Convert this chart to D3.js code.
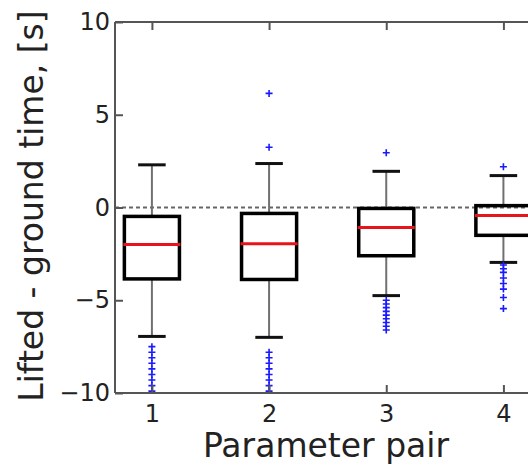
<!DOCTYPE html>
<html>
<head>
<meta charset="utf-8">
<script src="https://cdn.jsdelivr.net/npm/d3@7"></script>
<style>
  html, body { margin: 0; padding: 0; background: #fff; }
  svg { display: block; font-family: "DejaVu Sans", sans-serif; }
</style>
</head>
<body>
<svg id="chart" width="528" height="465"></svg>
<script>
// Parameter pairs along the x axis
const categories = [1, 2, 3, 4];

// Box statistics per parameter pair (seconds)
const q1 = [-3.85, -3.88, -2.6, -1.5];
const medians = [-2.0, -1.95, -1.08, -0.43];
const q3 = [-0.48, -0.32, -0.05, 0.1];
const whiskerLow = [-6.95, -7.0, -4.75, -2.96];
const whiskerHigh = [2.3, 2.37, 1.95, 1.72];

// Flier points per parameter pair
const outliers = [
  [-7.5, -7.8, -8.1, -8.4, -8.7, -9.0, -9.3, -9.6, -9.9],
  [6.15, 3.25, -7.8, -8.1, -8.4, -8.7, -9.0, -9.3, -9.6, -9.9],
  [2.95, -5.0, -5.2, -5.4, -5.6, -5.8, -6.0, -6.2, -6.4, -6.6],
  [2.2, -3.1, -3.3, -3.5, -3.8, -4.1, -4.4, -4.85, -5.45]
];

const yTicks = [-10, -5, 0, 5, 10];

const svg = d3.select("#chart");
const plotLeft = 115, plotRight = 562, plotTop = 22, plotBottom = 393;

const x = d3.scaleLinear().domain([0.685, 4.5]).range([plotLeft, plotRight]);
const y = d3.scaleLinear().domain([-10, 10]).range([plotBottom, plotTop]);
const boxW = x(1.47) - x(1);
const capW = boxW / 2;

svg.append("defs").append("clipPath").attr("id", "plotclip")
  .append("rect").attr("x", plotLeft).attr("y", plotTop)
  .attr("width", plotRight - plotLeft).attr("height", plotBottom - plotTop);

const plot = svg.append("g").attr("clip-path", "url(#plotclip)");

// zero reference line
plot.append("line")
  .attr("x1", plotLeft).attr("x2", plotRight)
  .attr("y1", y(0)).attr("y2", y(0))
  .attr("stroke", "#666").attr("stroke-width", 2)
  .attr("stroke-dasharray", "4,3");

const stats = categories.map((c, i) => ({
  c, q1: q1[i], med: medians[i], q3: q3[i],
  lo: whiskerLow[i], hi: whiskerHigh[i], fl: outliers[i]
}));

const g = plot.selectAll("g.box").data(stats).join("g").attr("class", "box");

// whiskers
g.append("line")
  .attr("x1", d => x(d.c)).attr("x2", d => x(d.c))
  .attr("y1", d => y(d.q3)).attr("y2", d => y(d.hi))
  .attr("stroke", "#707070").attr("stroke-width", 2);
g.append("line")
  .attr("x1", d => x(d.c)).attr("x2", d => x(d.c))
  .attr("y1", d => y(d.q1)).attr("y2", d => y(d.lo))
  .attr("stroke", "#707070").attr("stroke-width", 2);

// caps
g.append("line")
  .attr("x1", d => x(d.c) - capW / 2).attr("x2", d => x(d.c) + capW / 2)
  .attr("y1", d => y(d.hi)).attr("y2", d => y(d.hi))
  .attr("stroke", "#111").attr("stroke-width", 3);
g.append("line")
  .attr("x1", d => x(d.c) - capW / 2).attr("x2", d => x(d.c) + capW / 2)
  .attr("y1", d => y(d.lo)).attr("y2", d => y(d.lo))
  .attr("stroke", "#111").attr("stroke-width", 3);

// boxes
g.append("rect")
  .attr("x", d => x(d.c) - boxW / 2).attr("width", boxW)
  .attr("y", d => y(d.q3)).attr("height", d => y(d.q1) - y(d.q3))
  .attr("fill", "none").attr("stroke", "#000").attr("stroke-width", 3.5);

// medians
g.append("line")
  .attr("x1", d => x(d.c) - boxW / 2 - 1).attr("x2", d => x(d.c) + boxW / 2 + 1)
  .attr("y1", d => y(d.med)).attr("y2", d => y(d.med))
  .attr("stroke", "#e8141c").attr("stroke-width", 3);

// fliers as "+" markers
const plusPath = "M-3.5,0H3.5M0,-3.5V3.5";
g.each(function (d) {
  d3.select(this).selectAll("path.flier").data(d.fl).join("path")
    .attr("class", "flier")
    .attr("transform", v => `translate(${x(d.c)},${y(v)})`)
    .attr("d", plusPath)
    .attr("stroke", "#1a1aff").attr("stroke-width", 1.6).attr("fill", "none");
});

// frame
const frame = svg.append("g").attr("stroke", "#555").attr("stroke-width", 2);
frame.append("line").attr("x1", plotLeft).attr("x2", plotRight).attr("y1", plotTop).attr("y2", plotTop);
frame.append("line").attr("x1", plotLeft).attr("x2", plotRight).attr("y1", plotBottom).attr("y2", plotBottom);
frame.append("line").attr("x1", plotLeft).attr("x2", plotLeft).attr("y1", plotTop).attr("y2", plotBottom);
frame.append("line").attr("x1", plotRight).attr("x2", plotRight).attr("y1", plotTop).attr("y2", plotBottom);

// axes with inward ticks
const yAxis = svg.append("g").attr("transform", `translate(${plotLeft},0)`)
  .call(d3.axisLeft(y).tickValues(yTicks).tickSizeInner(-8).tickSizeOuter(0).tickPadding(5));
const xAxis = svg.append("g").attr("transform", `translate(0,${plotBottom})`)
  .call(d3.axisBottom(x).tickValues(categories).tickFormat(d3.format("d"))
    .tickSizeInner(-8).tickSizeOuter(0).tickPadding(12));
const xTop = svg.append("g").attr("transform", `translate(0,${plotTop})`)
  .call(d3.axisTop(x).tickValues(categories).tickFormat("").tickSizeInner(-8).tickSizeOuter(0));

[yAxis, xAxis, xTop].forEach(a => {
  a.select(".domain").remove();
  a.selectAll(".tick line").attr("stroke", "#555").attr("stroke-width", 2);
  a.selectAll(".tick text").attr("fill", "#222")
    .style("font-family", "'DejaVu Sans', sans-serif").style("font-size", "24px");
});

// axis titles
svg.append("text")
  .attr("x", 326).attr("y", 457)
  .attr("text-anchor", "middle")
  .attr("fill", "#222").style("font-size", "33px")
  .text("Parameter pair");

svg.append("text")
  .attr("transform", "translate(43,206) rotate(-90)")
  .attr("text-anchor", "middle")
  .attr("fill", "#222").style("font-size", "33px")
  .text("Lifted - ground time, [s]");
</script>
</body>
</html>
